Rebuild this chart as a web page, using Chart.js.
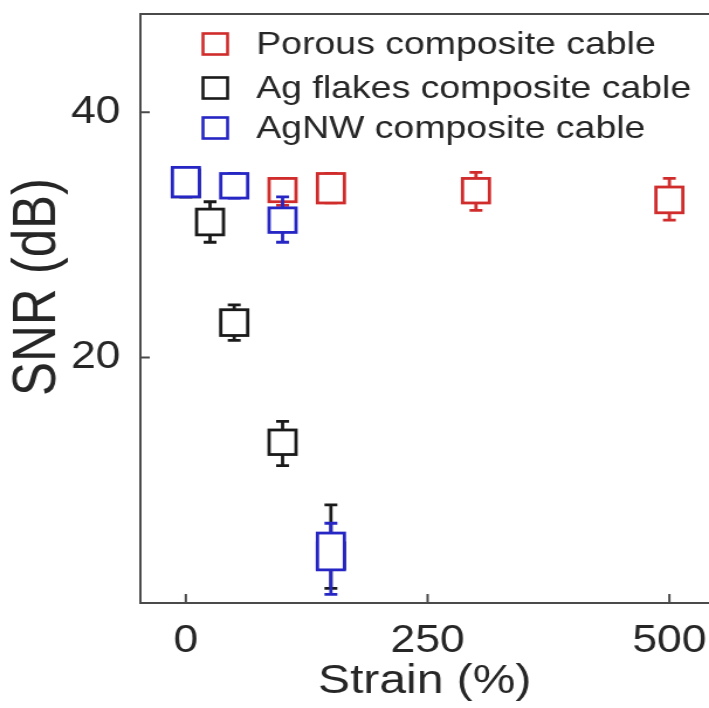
<!DOCTYPE html>
<html>
<head>
<meta charset="utf-8">
<script src="https://cdn.jsdelivr.net/npm/chart.js@4"></script>
<style>
  html, body { margin: 0; padding: 0; background: #fff; overflow: hidden; }
  #wrap { width: 606px; height: 708px; transform: scaleX(1.17); transform-origin: 0 0; }
  canvas { display: block; }
</style>
</head>
<body>
<div id="wrap"><canvas id="c" width="606" height="708"></canvas></div>
<script>
// SNR (dB) versus strain (%) for three stretchable cable types, as box plots.
const seriesNames = ['Porous composite cable', 'Ag flakes composite cable', 'AgNW composite cable'];
const seriesColors = ['#d02c2c', '#1a1a1a', '#2626c4'];

// Porous composite cable
const porousStrain = [100, 150, 300, 500];
const porousQ1     = [32.7, 32.6, 32.6, 31.8];
const porousQ3     = [34.6, 35.0, 34.6, 33.9];
const porousLow    = [32.4, 32.6, 32.0, 31.2];
const porousHigh   = [34.6, 35.0, 35.1, 34.6];

// Ag flakes composite cable
const flakesStrain = [0, 25, 50, 100, 150];
const flakesQ1     = [33.1, 30.0, 21.8, 12.1, 2.8];
const flakesQ3     = [35.3, 32.1, 23.9, 14.1, 4.9];
const flakesLow    = [33.1, 29.4, 21.4, 11.2, 1.2];
const flakesHigh   = [35.3, 32.7, 24.3, 14.8, 8.0];

// AgNW composite cable
const agnwStrain = [0, 50, 100, 150];
const agnwQ1     = [33.1, 33.0, 30.2, 2.7];
const agnwQ3     = [35.5, 35.0, 32.2, 5.7];
const agnwLow    = [33.1, 33.0, 29.4, 0.7];
const agnwHigh   = [35.5, 35.0, 33.1, 6.5];

const xTickValues = [0, 250, 500];
const yTickValues = [20, 40];
const xTitle = 'Strain (%)';
const yTitle = 'SNR (dB)';

function boxes(strain, q1, q3, lo, hi) {
  return strain.map((s, i) => ({ x: s, y: hi[i], q1: q1[i], q3: q3[i], lo: lo[i], hi: hi[i] }));
}

const FONT = "'Liberation Sans', Arial, Helvetica, sans-serif";
const TEXT = '#262626';
const AXIS = '#4a4a4a';

// Draws each box with its whiskers through the chart's scales
const boxPlot = {
  id: 'boxPlot',
  afterDatasetsDraw(chart) {
    const { ctx, scales: { x, y } } = chart;
    const half = 11.5, cap = 5.5;
    ctx.save();
    ctx.lineWidth = 2.8;
    ctx.lineCap = 'butt';
    chart.data.datasets.forEach(ds => {
      ctx.strokeStyle = ds.borderColor;
      ds.data.forEach(p => {
        const px = x.getPixelForValue(p.x);
        const y1 = y.getPixelForValue(p.q1), y3 = y.getPixelForValue(p.q3);
        const yl = y.getPixelForValue(p.lo), yh = y.getPixelForValue(p.hi);
        ctx.beginPath();
        ctx.moveTo(px, yh); ctx.lineTo(px, y3);
        ctx.moveTo(px, y1); ctx.lineTo(px, yl);
        ctx.moveTo(px - cap, yh); ctx.lineTo(px + cap, yh);
        ctx.moveTo(px - cap, yl); ctx.lineTo(px + cap, yl);
        ctx.stroke();
        ctx.fillStyle = '#fff';
        ctx.fillRect(px - half, y3, half * 2, y1 - y3);
        ctx.strokeRect(px - half, y3, half * 2, y1 - y3);
      });
    });
    ctx.restore();
  }
};

// Inward tick marks, top frame line, y-axis title and the legend inside the plot
const frame = {
  id: 'frame',
  afterDraw(chart) {
    const { ctx, chartArea: a, scales: { x, y } } = chart;
    ctx.save();
    ctx.strokeStyle = AXIS;
    ctx.lineWidth = 2;
    ctx.beginPath();
    ctx.moveTo(a.left - 1, a.top); ctx.lineTo(a.right, a.top);
    xTickValues.forEach(v => {
      const px = x.getPixelForValue(v);
      ctx.moveTo(px, a.bottom); ctx.lineTo(px, a.bottom - 9);
    });
    yTickValues.forEach(v => {
      const py = y.getPixelForValue(v);
      ctx.moveTo(a.left, py); ctx.lineTo(a.left + 8, py);
    });
    ctx.stroke();

    // y-axis title
    ctx.save();
    ctx.translate(33, 287);
    ctx.rotate(-Math.PI / 2);
    ctx.font = '51px ' + FONT;
    ctx.fillStyle = TEXT;
    ctx.textAlign = 'center';
    ctx.textBaseline = 'middle';
    ctx.fillText(yTitle, 0, 0);
    ctx.restore();

    const rows = [44, 88, 128];
    ctx.font = '32px ' + FONT;
    ctx.textBaseline = 'middle';
    ctx.textAlign = 'left';
    chart.data.datasets.forEach((ds, i) => {
      ctx.strokeStyle = ds.borderColor;
      ctx.lineWidth = 2.6;
      ctx.strokeRect(184 - 10.5, rows[i] - 10.5, 21, 21);
      ctx.fillStyle = TEXT;
      ctx.fillText(ds.label, 219, rows[i] + 1.5);
    });
    ctx.restore();
  }
};

// Keep the plot area fixed: no extra margin for overhanging tick labels
function noMargins(s) {
  s.paddingLeft = 0; s.paddingRight = 0; s.paddingTop = 0; s.paddingBottom = 0;
}

const makeSet = (i, data) => ({
  label: seriesNames[i],
  data,
  borderColor: seriesColors[i],
  backgroundColor: '#fff',
  pointRadius: 0,
  showLine: false
});

new Chart(document.getElementById('c'), {
  type: 'scatter',
  data: {
    datasets: [
      makeSet(0, boxes(porousStrain, porousQ1, porousQ3, porousLow, porousHigh)),
      makeSet(1, boxes(flakesStrain, flakesQ1, flakesQ3, flakesLow, flakesHigh)),
      makeSet(2, boxes(agnwStrain, agnwQ1, agnwQ3, agnwLow, agnwHigh))
    ]
  },
  options: {
    responsive: false,
    animation: false,
    devicePixelRatio: 1,
    layout: { padding: { top: 14, right: 0, left: 0, bottom: 0 } },
    plugins: { legend: { display: false }, tooltip: { enabled: false } },
    scales: {
      x: {
        type: 'linear',
        min: -47,
        max: 541,
        afterFit(s) { s.height = 105; noMargins(s); },
        afterBuildTicks(s) { s.ticks = xTickValues.map(v => ({ value: v })); },
        grid: { display: true, drawOnChartArea: false, drawTicks: false },
        border: { display: true, color: AXIS, width: 2 },
        ticks: { color: TEXT, font: { size: 38, family: FONT }, padding: 16, maxRotation: 0 },
        title: { display: true, text: xTitle, color: TEXT, font: { size: 41, family: FONT }, padding: { top: 0, bottom: 2 } }
      },
      y: {
        type: 'linear',
        min: 0,
        max: 48,
        afterFit(s) { s.width = 120; noMargins(s); },
        afterBuildTicks(s) { s.ticks = yTickValues.map(v => ({ value: v })); },
        grid: { display: true, drawOnChartArea: false, drawTicks: false },
        border: { display: true, color: AXIS, width: 2 },
        ticks: { color: TEXT, font: { size: 38, family: FONT }, padding: 17 },
        title: { display: false }
      }
    }
  },
  plugins: [boxPlot, frame]
});
</script>
</body>
</html>
